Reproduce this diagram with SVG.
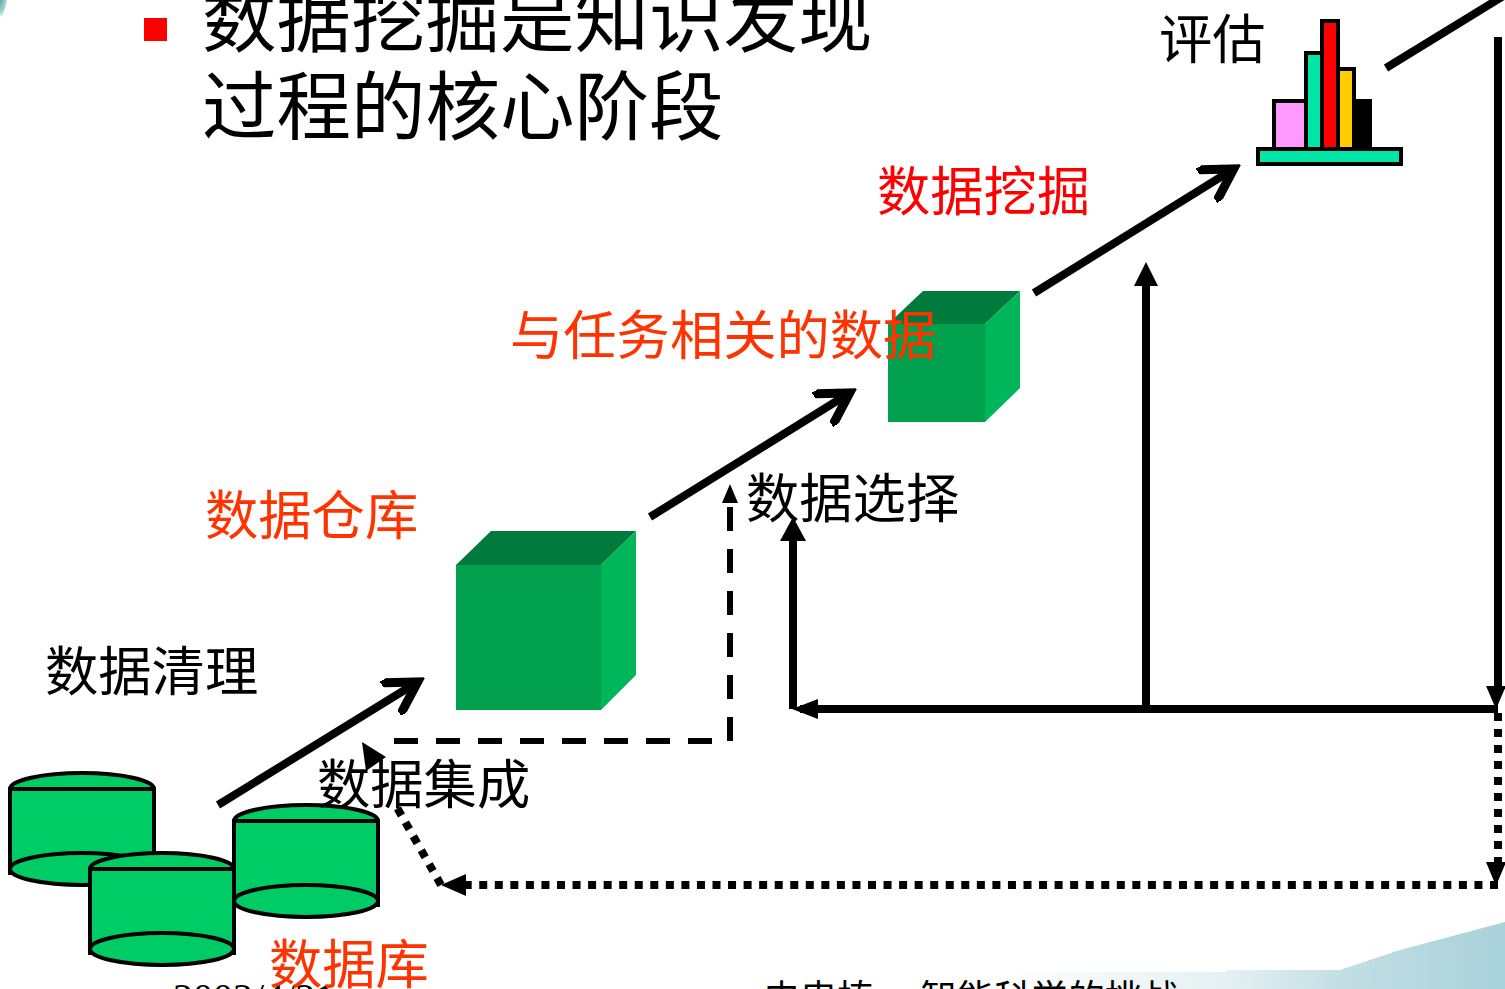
<svg xmlns="http://www.w3.org/2000/svg" width="1505" height="989" viewBox="0 0 1505 989">
<style>
text{font-family:"Liberation Serif","Noto Sans CJK SC",serif;font-size:53.3px}
.h{font-size:74.5px;fill:#000}
.f{font-size:37px;fill:#000}
.r{fill:#ff3300}
.rr{fill:#ff0000}
.k{fill:#000}
.c{fill:#00cc66;stroke:#000;stroke-width:4}
.s{fill:none;stroke:#000;stroke-width:8}
.bar{stroke:#000;stroke-width:4}
</style>
<defs>
<marker id="open" viewBox="0 0 40 40" refX="30" refY="20" markerWidth="40" markerHeight="40" markerUnits="userSpaceOnUse" orient="auto"><path d="M3 3L32 20L3 37" fill="none" stroke="#000" stroke-width="9" stroke-linecap="round"/></marker>
<linearGradient id="sw" gradientUnits="userSpaceOnUse" x1="1000" y1="0" x2="1505" y2="0"><stop offset="0" stop-color="#ffffff"/><stop offset="0.45" stop-color="#e4f0f3"/><stop offset="0.68" stop-color="#c2dee4"/><stop offset="1" stop-color="#a9d2da"/></linearGradient>
<radialGradient id="cn" cx="0" cy="0" r="1"><stop offset="0" stop-color="#5fa9ad"/><stop offset="0.7" stop-color="#a8d3d5"/><stop offset="1" stop-color="#fff"/></radialGradient>
</defs>
<rect width="1505" height="989" fill="#fff"/>
<path id="swoosh" d="M1000 972H1226V970H1340L1400 950L1505 922V989H1000Z" fill="url(#sw)"/>
<path id="corner" d="M0 0H8L3 15L0 18Z" fill="url(#cn)"/>
<g id="title">
<rect x="144" y="18" width="23" height="23" fill="#f00"/>
<text class="h" x="202" y="46">数据挖掘是知识发现</text>
<text class="h" x="202" y="134">过程的核心阶段</text>
</g>
<g id="footer">
<text class="f" x="173" y="1011" style="font-size:40px">2002/4/21</text>
<text class="f" x="763" y="1012">史忠植<tspan x="920">智能科学的挑战</tspan></text>
</g>
<g id="connectors">
<path class="s" d="M218 805L416 683" marker-end="url(#open)"/>
<path class="s" d="M650 517L848 394" marker-end="url(#open)"/>
<path class="s" d="M1034 293L1232 170" marker-end="url(#open)"/>
<path class="s" d="M1386 68L1505 -5"/>
<path d="M394 741H730V490" fill="none" stroke="#000" stroke-width="6" stroke-dasharray="24 18"/>
<path d="M730 484L738 503H722Z" fill="#000"/>
<path class="s" d="M1498 709H800"/>
<path d="M792 709L818 699V719Z" fill="#000"/>
<path class="s" d="M793 709V530"/>
<path d="M793 517L806 541H780Z" fill="#000"/>
<path class="s" d="M1146 709V280"/>
<path d="M1146 262L1158 286H1134Z" fill="#000"/>
<path class="s" d="M1498 37V695"/>
<path d="M1496 709L1486 686H1506Z" fill="#000"/>
<path d="M1498 713V870" fill="none" stroke="#000" stroke-width="8" stroke-dasharray="8 8"/>
<path d="M1496 886L1486 862H1506Z" fill="#000"/>
<path d="M1498 885H460" fill="none" stroke="#000" stroke-width="8" stroke-dasharray="8 7.55"/>
<path d="M441 885L466 874V896Z" fill="#000"/>
<path d="M441 885L395 804" fill="none" stroke="#000" stroke-width="8" stroke-dasharray="8 8"/>
<path d="M362 742L386 757L366 771Z" fill="#000"/>
</g>
<g id="db1">
<path class="c" d="M10 789V873H154V789Z"/>
<ellipse class="c" cx="82" cy="869" rx="72" ry="16"/>
<path class="c" d="M10 789A72 16 0 0 1 154 789Z"/>
</g>
<g id="db3">
<path class="c" d="M234 821V905H378V821Z"/>
<ellipse class="c" cx="306" cy="901" rx="72" ry="16"/>
<path class="c" d="M234 821A72 16 0 0 1 378 821Z"/>
</g>
<g id="db2">
<path class="c" d="M90 869V953H234V869Z"/>
<ellipse class="c" cx="162" cy="949" rx="72" ry="16"/>
<path class="c" d="M90 869A72 16 0 0 1 234 869Z"/>
</g>
<g id="warehouse">
<rect x="456" y="565" width="145" height="145" fill="#00a04f"/>
<path d="M456 565L491 531H636L601 565Z" fill="#007a3d"/>
<path d="M601 565L636 531V675L601 710Z" fill="#00b65a"/>
</g>
<g id="cube">
<rect x="888" y="324" width="97" height="98" fill="#00a04f"/>
<path d="M888 324L923 291H1020L985 324Z" fill="#007a3d"/>
<path d="M985 324L1020 291V388L985 422Z" fill="#00b65a"/>
</g>
<g id="chart">
<rect class="bar" x="1274" y="101" width="32" height="48" fill="#ff99ff"/>
<rect class="bar" x="1306" y="53" width="16" height="96" fill="#00e6a8"/>
<rect class="bar" x="1322" y="21" width="16" height="128" fill="#f00"/>
<rect class="bar" x="1338" y="69" width="16" height="80" fill="#fc0"/>
<rect class="bar" x="1354" y="101" width="16" height="48" fill="#000"/>
<rect class="bar" x="1258" y="149" width="143" height="15" fill="#00e6a8"/>
</g>
<g id="labels">
<text class="k" x="1159" y="59">评估</text>
<text class="rr" x="877" y="211">数据挖掘</text>
<text class="r" x="510" y="355">与任务相关的数据</text>
<text class="k" x="746" y="518">数据选择</text>
<text class="r" x="205" y="535">数据仓库</text>
<text class="k" x="45" y="691">数据清理</text>
<text class="k" x="317" y="804">数据集成</text>
<text class="r" x="269" y="984">数据库</text>
</g>
</svg>
